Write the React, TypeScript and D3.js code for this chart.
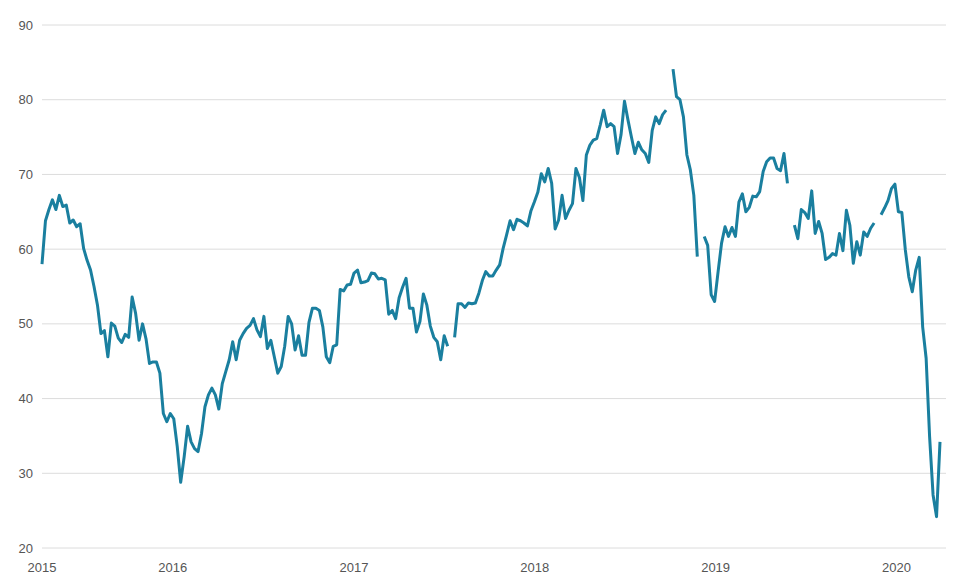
import React from 'react'
import * as d3 from 'd3'

// weekly readings, split by calendar year (null = no reading that week)
const values2015: (number | null)[] = [
  58.0, 63.8, 65.3, 66.6, 65.3, 67.2, 65.7, 65.9, 63.5, 63.9, 63.0, 63.4, 60.1,
  58.5, 57.2, 55.0, 52.5, 48.7, 49.1, 45.6, 50.1, 49.7, 48.1, 47.5, 48.6, 48.2,
  53.6, 51.4, 47.8, 50.0, 48.0, 44.7, 44.9, 44.9, 43.4, 38.0, 36.9, 38.0, 37.3,
]
const values2016: (number | null)[] = [
  33.6, 28.8, 32.2, 36.3, 34.2, 33.3, 32.9, 35.3, 38.9, 40.5, 41.4, 40.5, 38.6,
  42.0, 43.6, 45.2, 47.6, 45.2, 47.8, 48.7, 49.4, 49.8, 50.7, 49.2, 48.3, 51.0,
  46.7, 47.8, 45.6, 43.4, 44.3, 47.0, 51.0, 50.0, 46.5, 48.4, 45.8, 45.8, 50.2,
  52.1, 52.1, 51.8, 49.6, 45.6, 44.8, 47.0, 47.2, 54.6, 54.4, 55.2, 55.3, 56.8,
]
const values2017: (number | null)[] = [
  57.2, 55.5, 55.6, 55.8, 56.8, 56.7, 56.0, 56.1, 55.9, 51.3, 51.8, 50.7, 53.5,
  54.9, 56.1, 52.1, 52.1, 48.9, 50.3, 54.0, 52.5, 49.7, 48.2, 47.6, 45.2, 48.4,
  47.0, null, 48.2, 52.7, 52.7, 52.2, 52.8, 52.7, 52.8, 54.1, 55.8, 57.0, 56.4,
  56.4, 57.2, 57.9, 60.1, 61.9, 63.8, 62.6, 64.0, 63.8, 63.5, 63.1, 65.1, 66.3,
]
const values2018: (number | null)[] = [
  67.6, 70.1, 69.0, 70.8, 68.8, 62.7, 63.9, 67.2, 64.1, 65.2, 66.1, 70.8, 69.6,
  66.5, 72.6, 73.9, 74.6, 74.8, 76.6, 78.6, 76.4, 76.8, 76.4, 72.8, 75.3, 79.8,
  77.3, 75.0, 72.8, 74.3, 73.3, 72.8, 71.6, 75.9, 77.7, 76.8, 78.0, 78.6, null,
  84.1, 80.4, 80.0, 77.7, 72.6, 70.6, 67.2, 59.0, null, 61.7, 60.5, 53.9, 53.0,
]
const values2019: (number | null)[] = [
  57.0, 60.8, 63.0, 61.7, 62.9, 61.7, 66.3, 67.4, 65.0, 65.6, 67.1, 67.0, 67.7,
  70.4, 71.7, 72.2, 72.2, 70.8, 70.5, 72.8, 68.8, null, 63.2, 61.4, 65.3, 64.9,
  64.1, 67.8, 62.1, 63.7, 62.1, 58.6, 58.9, 59.4, 59.2, 62.1, 59.8, 65.2, 63.2,
  58.1, 61.0, 59.2, 62.3, 61.7, 62.8, 63.5, null, 64.6, 65.5, 66.5, 68.1, 68.7,
]
const values2020: (number | null)[] = [
  65.0, 64.9, 59.9, 56.3, 54.3, 57.2, 58.9, 49.6, 45.4, 34.9, 27.1, 24.2, 34.2,
]

const yTicks = [20, 30, 40, 50, 60, 70, 80, 90]
const yearTicks = [2016, 2017, 2018, 2019, 2020]
const firstWeek = new Date(2015, 3, 12)

const width = 959
const height = 587
const margin = { top: 25, right: 13, bottom: 39, left: 42 }
const lineEnd = 940

const font = '"Helvetica Neue", Helvetica, Arial, "Liberation Sans", sans-serif'
const labelColor = '#555'

export default function App() {
  const values = [
    ...values2015,
    ...values2016,
    ...values2017,
    ...values2018,
    ...values2019,
    ...values2020,
  ]
  const data = values.map((v, i) => ({
    date: d3.timeWeek.offset(firstWeek, i),
    value: v,
  }))

  const x = d3
    .scaleTime()
    .domain([data[0].date, data[data.length - 1].date])
    .range([margin.left, lineEnd])

  const y = d3
    .scaleLinear()
    .domain([20, 90])
    .range([height - margin.bottom, margin.top])

  const line = d3
    .line<{ date: Date; value: number | null }>()
    .defined((d) => d.value != null)
    .x((d) => x(d.date))
    .y((d) => y(d.value as number))

  const xTicks = [
    { date: data[0].date, label: '2015' },
    ...yearTicks.map((yr) => ({ date: new Date(yr, 0, 1), label: String(yr) })),
  ]

  return (
    <svg
      width={width}
      height={height}
      style={{ position: 'fixed', left: 0, top: 0, background: '#fff' }}
    >
      {/* gridlines + y labels */}
      {yTicks.map((t) => (
        <g key={t}>
          <line
            x1={margin.left}
            x2={width - margin.right}
            y1={y(t)}
            y2={y(t)}
            stroke="#dcdcdc"
            strokeWidth={1}
          />
          <text
            x={33}
            y={y(t)}
            dy="0.35em"
            textAnchor="end"
            fontFamily={font}
            fontSize={13}
            fill={labelColor}
          >
            {t}
          </text>
        </g>
      ))}

      {/* x labels */}
      {xTicks.map((t) => (
        <text
          key={t.label}
          x={x(t.date)}
          y={572}
          textAnchor="middle"
          fontFamily={font}
          fontSize={13}
          fill={labelColor}
        >
          {t.label}
        </text>
      ))}

      <path
        d={line(data) ?? ''}
        fill="none"
        stroke="#1a7f9f"
        strokeWidth={3}
        strokeLinejoin="round"
      />
    </svg>
  )
}
